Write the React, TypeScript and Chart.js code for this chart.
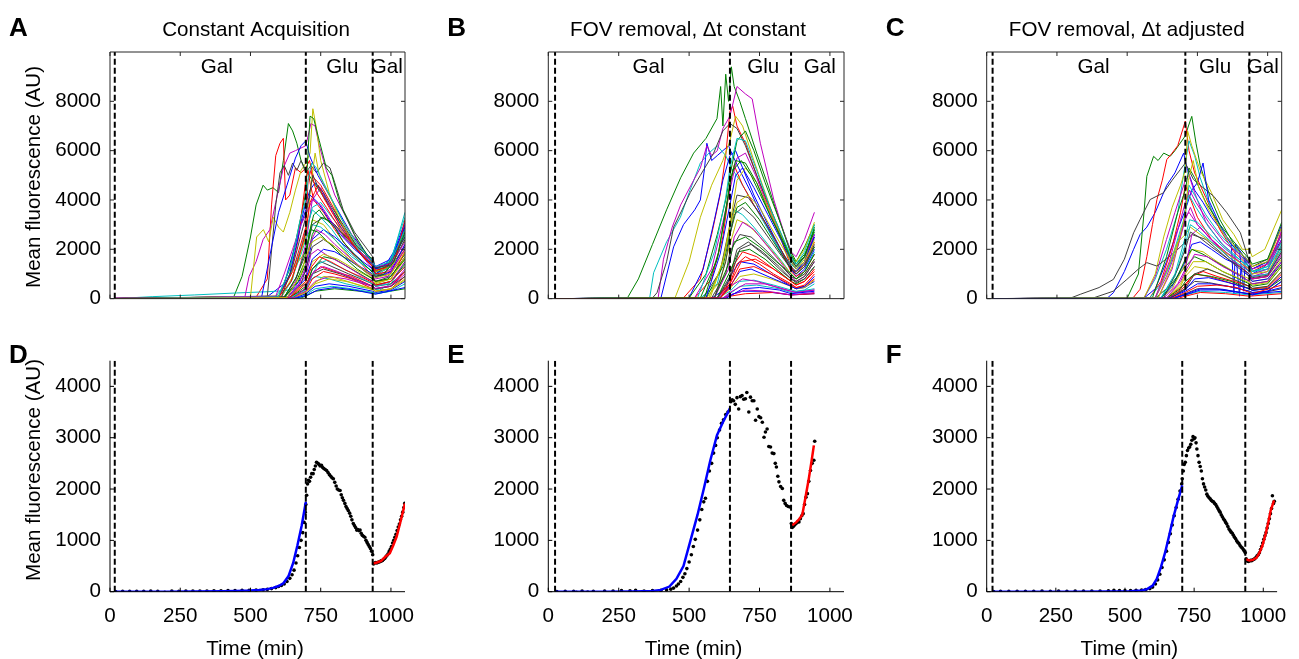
import React, { useEffect, useRef } from "react";
import { Chart, registerables } from "chart.js";

Chart.register(...registerables);

// ---------------- DATA ----------------
const timeTicks = [0, 250, 500, 750, 1000];
const topYTicks = [0, 2000, 4000, 6000, 8000];
const bottomYTicks = [0, 1000, 2000, 3000, 4000];
const TIME_MAX = 1050;
const TOP_Y_MAX = 10000;
const BOTTOM_Y_MAX = 4500;

const mediaNames = ["Gal", "Glu", "Gal"];
const switchTimesA = [17, 697, 935];
const switchTimesB = [24, 645, 862];
const switchTimesC = [21, 707, 935];
const mediaLabelTimesA = [380, 827, 985];
const mediaLabelTimesB = [356, 763, 964];
const mediaLabelTimesC = [380, 813, 983];

// single-cell traces: flat [time, value, time, value, ...]
const tracesA: number[][] = [
  [17,20, 450,40, 560,80, 620,600, 660,2200, 697,3900, 712,4400, 730,4700, 760,4200, 800,3400, 850,2500, 900,1800, 935,1500, 945,1250, 980,1350, 1010,1900, 1050,3100],
  [17,10, 440,60, 470,900, 500,2500, 520,3800, 545,4600, 560,4400, 580,4500, 600,4300, 617,5600, 635,7100, 650,6800, 665,6300, 680,5600, 697,5200, 720,4800, 750,4300, 790,3600, 830,2900, 880,2100, 935,1600, 945,1200, 990,1400, 1050,2600],
  [17,15, 520,60, 560,800, 575,3800, 590,5800, 605,6300, 617,6500, 625,4000, 640,4200, 660,5300, 680,5100, 697,5300, 710,5600, 725,4900, 750,4600, 790,3800, 830,2900, 880,2000, 935,1400, 945,1100, 990,1200, 1050,2900],
  [17,0, 150,80, 300,150, 450,230, 560,280, 620,320, 660,400, 697,600, 730,900, 780,800, 840,600, 900,450, 935,400, 960,350, 1000,600, 1050,1500],
  [17,10, 480,60, 495,900, 520,1500, 545,2400, 569,2800, 590,3900, 617,5300, 640,5900, 660,6000, 697,6200, 715,7100, 730,7000, 745,6200, 770,5200, 800,4200, 840,3300, 890,2100, 935,1400, 945,900, 990,1000, 1050,2200],
  [17,5, 500,60, 522,2500, 546,2800, 565,2300, 581,3300, 600,2900, 617,2700, 640,3500, 660,4400, 680,5200, 697,5500, 712,5900, 722,7700, 735,6900, 750,5600, 780,4300, 820,3100, 870,2200, 935,1300, 945,1000, 1000,1300, 1050,2400],
  [17,5, 560,100, 590,3800, 605,5100, 620,5400, 635,5000, 650,5500, 665,5200, 680,5600, 697,5100, 715,5400, 735,5100, 760,5500, 783,5300, 800,4700, 830,3600, 870,2700, 935,1700, 945,1200, 1000,1300, 1050,2100],
  [17,10, 540,80, 570,1800, 600,3500, 630,4600, 660,5700, 680,6200, 697,6400, 710,5800, 740,5000, 770,4400, 810,3600, 860,2600, 935,1500, 945,1300, 1000,1600, 1050,2900],
  [17,0, 600,100, 640,1200, 670,2800, 697,4300, 712,7400, 725,7300, 745,6400, 770,5300, 790,5000, 820,3800, 870,2600, 935,1400, 945,1000, 990,900, 1050,1800],
  [17,10, 600,80, 640,900, 670,2400, 697,4800, 705,5200, 712,4700, 725,4000, 760,3500, 800,2800, 850,2000, 935,900, 945,700, 1000,800, 1050,1900],
  [17,0, 610,60, 650,800, 697,2800, 720,3600, 750,3300, 790,2800, 840,2000, 900,1400, 935,1100, 945,1000, 1000,1500, 1050,3500],
  [17,0, 620,80, 660,700, 697,2200, 720,4000, 750,4500, 780,3800, 820,2900, 870,2100, 935,1200, 945,900, 1000,1200, 1050,2700],
  [17,0, 600,100, 650,1200, 697,1900, 720,3200, 760,3000, 800,2400, 860,1600, 935,800, 945,600, 1000,800, 1050,1600],
  [17,0, 640,60, 697,400, 720,1200, 750,1500, 790,1300, 850,1000, 935,600, 945,500, 1000,600, 1050,1100],
  [17,0, 620,60, 660,500, 697,1100, 720,2400, 760,2800, 800,2500, 850,2000, 900,1500, 935,1200, 945,1000, 1000,1400, 1050,3000],
  [17,0, 640,40, 697,500, 720,1200, 760,1700, 800,1600, 860,1200, 935,700, 945,550, 1000,700, 1050,1400],
  [17,0, 650,50, 697,300, 720,800, 760,1100, 800,1000, 860,800, 935,400, 945,300, 1000,400, 1050,900],
  [17,0, 600,80, 640,600, 680,1800, 697,2400, 720,3000, 750,2900, 800,2400, 860,1700, 935,1100, 945,950, 1000,1300, 1050,2600],
  [17,0, 630,60, 697,900, 715,1800, 740,2000, 780,1700, 830,1400, 900,900, 935,700, 945,500, 1000,700, 1050,1500],
  [17,0, 650,40, 697,200, 730,600, 780,800, 840,700, 935,400, 945,300, 1000,400, 1050,800],
  [17,0, 620,60, 660,800, 697,1800, 720,3000, 760,3300, 800,3000, 850,2300, 935,1300, 945,1100, 1000,1300, 1050,2400],
  [17,0, 660,30, 697,200, 730,500, 780,600, 850,500, 935,300, 945,250, 1000,350, 1050,700],
  [17,0, 620,50, 670,700, 697,1400, 720,2600, 750,3300, 790,3100, 840,2500, 900,1700, 935,1300, 945,1100, 1000,1400, 1050,2800],
  [17,0, 640,40, 697,600, 720,1000, 750,1300, 800,1100, 860,900, 935,500, 945,400, 1000,500, 1050,1100],
  [17,0, 590,80, 630,700, 670,1700, 697,2600, 720,3700, 750,3900, 790,3300, 840,2600, 900,1800, 935,1300, 945,1100, 1000,1600, 1050,3300],
  [17,0, 660,40, 697,300, 730,700, 780,900, 840,800, 935,500, 945,400, 1000,500, 1050,1000],
  [17,0, 610,70, 650,900, 697,2500, 715,4600, 730,5900, 745,5000, 780,4200, 820,3300, 870,2400, 935,1400, 945,1100, 1000,1300, 1050,2000],
  [17,0, 640,60, 680,600, 697,1200, 720,2100, 760,2400, 800,2100, 860,1500, 935,900, 945,700, 1000,900, 1050,1700],
  [17,0, 600,60, 640,1000, 680,3000, 697,3600, 712,4200, 740,3900, 780,3200, 820,2600, 870,2000, 935,1400, 945,1200, 1000,1500, 1050,2500],
  [17,0, 680,30, 697,100, 730,300, 800,400, 935,250, 945,200, 1050,400],
  [17,0, 600,60, 650,1100, 697,2900, 705,4800, 715,5200, 735,4300, 770,3700, 820,2800, 880,2000, 935,1300, 945,1000, 1000,1100, 1050,2000],
  [17,0, 670,40, 697,150, 730,400, 790,500, 860,400, 935,250, 945,200, 1000,300, 1050,600],
  [17,0, 590,100, 620,1000, 650,2000, 680,3000, 697,3400, 720,4000, 750,3800, 790,3100, 840,2400, 900,1800, 935,1500, 945,1300, 1000,1400, 1050,2300],
  [17,0, 630,50, 697,700, 720,1500, 760,1800, 810,1600, 870,1200, 935,800, 945,650, 1000,800, 1050,1700],
  [17,0, 650,40, 697,400, 720,1000, 760,1200, 820,1000, 935,500, 945,400, 1000,500, 1050,900],
  [17,0, 630,50, 697,800, 720,1600, 760,2000, 800,1900, 860,1500, 935,1000, 945,850, 1000,1100, 1050,2200],
  [17,0, 620,40, 660,600, 697,1600, 708,2600, 725,3400, 745,3600, 770,3200, 800,2900, 830,2300, 870,1800, 905,1400, 935,1050, 945,900, 975,1000, 1010,1500, 1050,2700],
  [17,0, 600,50, 645,700, 680,2000, 697,2700, 712,3900, 728,4300, 742,4600, 760,4100, 790,3500, 822,2900, 860,2300, 900,1700, 935,1300, 945,1150, 980,1250, 1020,1800, 1050,3200],
  [17,0, 640,30, 697,350, 718,900, 740,1400, 770,1550, 805,1350, 850,1100, 900,800, 935,600, 945,500, 990,600, 1050,1300],
  [17,0, 630,30, 670,500, 697,1300, 710,2200, 735,2800, 765,2600, 800,2200, 850,1700, 900,1200, 935,900, 945,800, 990,900, 1050,2000],
  [17,0, 650,30, 697,250, 725,600, 760,900, 800,850, 860,650, 935,350, 945,300, 1000,380, 1050,750],
  [17,0, 610,60, 650,1300, 680,2600, 697,3300, 708,4100, 722,5000, 738,4600, 760,4300, 790,3700, 830,3000, 875,2200, 935,1500, 945,1250, 990,1350, 1050,2500],
  [17,0, 660,20, 697,120, 740,350, 800,450, 870,350, 935,200, 945,180, 1050,450],
  [17,0, 620,50, 665,900, 697,2000, 715,2800, 740,2700, 775,2300, 820,1800, 880,1200, 935,800, 945,700, 990,800, 1050,1600],
  [17,0, 640,40, 697,700, 718,1300, 745,1700, 785,1500, 840,1150, 900,850, 935,650, 945,550, 1000,700, 1050,1300],
  [17,0, 600,70, 645,1400, 675,3100, 697,4000, 706,4900, 718,5500, 735,5300, 760,4700, 795,3900, 835,3000, 880,2200, 935,1500, 945,1300, 1000,1500, 1050,2800],
  [17,0, 655,30, 697,450, 725,1100, 760,1300, 810,1100, 870,800, 935,500, 945,420, 1000,520, 1050,1200],
  [17,0, 630,40, 680,1000, 697,1700, 720,2300, 750,2500, 790,2200, 840,1700, 900,1200, 935,950, 945,850, 1000,1000, 1050,1900],
];

const tracesB: number[][] = [
  [24,0, 400,30, 445,2100, 480,3000, 520,3600, 540,4000, 555,5300, 563,6300, 580,5600, 600,5800, 620,6000, 640,6200, 655,5800, 680,5200, 720,4300, 760,3300, 800,2400, 840,1600, 862,1200, 880,1100, 910,1500, 945,2600],
  [24,0, 280,10, 320,800, 370,2200, 420,3600, 470,4900, 516,5900, 560,6500, 599,7300, 612,8600, 620,7000, 630,9100, 640,8000, 650,9400, 660,8600, 680,8000, 700,7300, 740,5900, 780,4600, 820,3200, 862,1900, 880,1500, 910,2100, 945,3000],
  [24,0, 480,30, 540,800, 580,2600, 610,4200, 630,5800, 645,7600, 655,7800, 670,7000, 700,6300, 740,5000, 780,3800, 820,2600, 862,1300, 880,1000, 910,1400, 945,2300],
  [24,0, 360,30, 374,1050, 420,2300, 469,3300, 500,4300, 540,5500, 570,5900, 600,6200, 630,5800, 650,5300, 680,4800, 720,4000, 770,3000, 820,2000, 862,1400, 880,1200, 910,1700, 945,2800],
  [24,0, 390,20, 409,1600, 440,2900, 470,3800, 516,4800, 540,5300, 563,6200, 580,5800, 600,6000, 620,6900, 645,7400, 670,8600, 700,8300, 724,8100, 753,6300, 780,5000, 801,4000, 836,2700, 862,1900, 880,1700, 910,2400, 945,3500],
  [24,0, 450,30, 500,1500, 540,3300, 580,4600, 620,5600, 645,6400, 665,7400, 690,7000, 730,5600, 770,4300, 810,3000, 862,1700, 880,1500, 910,2000, 945,3100],
  [24,0, 370,30, 386,240, 420,1500, 445,2900, 475,3600, 504,4300, 540,5000, 587,5900, 620,6800, 645,7100, 670,6900, 700,6200, 740,5000, 780,3900, 820,2800, 862,1600, 880,1300, 910,1700, 945,2500],
  [24,0, 500,40, 550,1200, 590,3200, 620,4800, 645,5800, 665,6000, 690,5300, 730,4200, 780,3000, 830,1900, 862,1200, 880,900, 910,1200, 945,2000],
  [24,0, 500,30, 560,1000, 600,2600, 630,4000, 645,5000, 670,6400, 700,6800, 730,6000, 770,4700, 820,3200, 862,1800, 880,1400, 910,1800, 945,2700],
  [24,0, 520,30, 580,800, 620,2500, 645,4600, 660,5400, 690,4600, 730,3800, 780,2900, 830,1900, 862,1100, 880,900, 910,1100, 945,1800],
  [24,0, 540,20, 600,600, 645,2700, 660,3600, 690,3400, 730,2900, 780,2200, 830,1500, 862,1000, 880,800, 910,1100, 945,1900],
  [24,0, 520,40, 580,1200, 620,3100, 645,4400, 670,5700, 700,5900, 740,4900, 790,3400, 840,2200, 862,1600, 880,1300, 910,1700, 945,2600],
  [24,0, 560,20, 610,700, 645,2200, 670,3200, 710,3000, 760,2400, 820,1600, 862,1000, 880,800, 910,1000, 945,1600],
  [24,0, 550,30, 610,1100, 645,3000, 670,4200, 710,4100, 760,3300, 810,2300, 862,1300, 880,1100, 910,1400, 945,2100],
  [24,0, 580,20, 630,400, 645,900, 680,1500, 730,1400, 790,1000, 862,500, 880,400, 910,450, 945,700],
  [24,0, 560,30, 620,1300, 645,2600, 670,3700, 700,3900, 750,3200, 800,2300, 862,1200, 880,1000, 910,1300, 945,2100],
  [24,0, 600,20, 645,600, 670,1400, 700,1700, 750,1400, 800,1000, 862,600, 880,450, 910,500, 945,800],
  [24,0, 600,20, 645,300, 680,700, 730,750, 800,550, 862,350, 880,300, 910,350, 945,600],
  [24,0, 590,30, 640,1200, 660,2500, 690,3100, 730,2800, 780,2100, 830,1400, 862,900, 880,700, 910,900, 945,1500],
  [24,0, 610,20, 645,400, 680,900, 730,1000, 790,800, 862,500, 880,400, 910,450, 945,750],
  [24,0, 580,30, 630,1000, 645,1900, 680,2600, 720,2500, 770,2000, 830,1300, 862,900, 880,800, 910,1000, 945,1600],
  [24,0, 620,10, 645,150, 690,300, 760,300, 862,150, 945,200],
  [24,0, 590,40, 640,1400, 660,2300, 700,2500, 750,2100, 810,1500, 862,1000, 880,800, 910,1100, 945,1800],
  [24,0, 600,20, 645,700, 660,1400, 690,1900, 740,1700, 800,1200, 862,700, 880,550, 910,700, 945,1200],
  [24,0, 620,20, 645,200, 680,500, 740,550, 820,400, 862,250, 945,400],
  [24,0, 600,20, 645,500, 690,800, 740,700, 800,500, 862,300, 880,250, 945,350],
  [24,0, 570,40, 620,1500, 645,3000, 670,4800, 700,5300, 740,4700, 780,3700, 830,2500, 862,1500, 880,1200, 910,1600, 945,2400],
  [24,0, 600,30, 645,900, 670,2000, 710,2300, 760,1900, 820,1300, 862,800, 880,700, 910,900, 945,1500],
  [24,0, 610,20, 645,500, 680,1100, 720,1200, 780,900, 862,500, 880,400, 910,500, 945,900],
  [24,0, 620,10, 645,100, 700,200, 800,250, 862,150, 945,200],
  [24,0, 540,30, 600,1600, 630,3500, 645,4700, 665,5600, 700,5500, 740,4700, 790,3300, 840,2200, 862,1700, 880,1400, 910,1700, 945,2900],
  [24,0, 620,10, 645,150, 700,350, 780,300, 862,150, 945,250],
  [24,0, 590,30, 630,1500, 645,2600, 660,3400, 690,3700, 730,3300, 780,2500, 830,1700, 862,1200, 880,1000, 910,1300, 945,2200],
  [24,0, 560,40, 610,1800, 645,3800, 665,5000, 690,5300, 730,4500, 780,3400, 830,2300, 862,1500, 880,1200, 910,1500, 945,2500],
  [24,0, 600,30, 645,1100, 675,1900, 715,2000, 770,1600, 830,1000, 862,700, 880,600, 910,800, 945,1300],
  [24,0, 610,20, 645,450, 680,1200, 730,1300, 790,1000, 862,550, 880,450, 910,550, 945,1000],
  [24,0, 530,30, 590,1900, 630,4100, 645,5300, 670,6500, 700,6400, 740,5200, 790,3600, 840,2300, 862,1700, 880,1400, 910,1900, 945,3000],
  [24,0, 620,20, 645,250, 700,600, 770,600, 862,300, 880,250, 945,350],
  [24,0, 575,30, 625,1700, 645,2900, 670,3900, 710,4200, 750,3700, 800,2700, 862,1500, 880,1200, 910,1500, 945,2300],
  [24,0, 600,20, 645,800, 680,2000, 720,2200, 775,1700, 830,1100, 862,800, 880,650, 910,800, 945,1300],
  [24,0, 630,10, 645,100, 690,400, 750,450, 820,350, 862,200, 945,300],
  [24,0, 555,40, 605,1900, 640,4300, 655,5200, 685,5600, 720,5000, 770,3800, 820,2600, 862,1600, 880,1300, 910,1700, 945,2800],
  [24,0, 610,20, 645,600, 685,1500, 735,1600, 800,1200, 862,700, 880,550, 910,700, 945,1100],
];

const tracesC: number[][] = [
  [21,0, 430,30, 451,240, 490,1100, 523,2000, 546,2600, 570,2900, 600,3500, 641,4600, 670,5100, 701,5900, 715,5200, 740,4400, 770,3900, 800,3300, 840,2700, 870,2300, 880,200, 885,2200, 910,1800, 935,1200, 945,1000, 990,1300, 1050,2400],
  [21,0, 500,20, 540,1000, 560,3500, 570,4960, 594,5770, 610,5600, 630,5900, 653,5770, 670,6000, 689,6310, 707,6600, 718,7000, 730,7390, 745,6300, 760,5400, 796,4100, 830,3200, 880,2200, 935,1400, 945,1200, 1000,1500, 1050,2300],
  [21,0, 520,20, 546,380, 570,1700, 590,3000, 606,4020, 625,4800, 641,5640, 660,5900, 680,6200, 707,7200, 720,6000, 740,5100, 780,4100, 830,2800, 880,1900, 935,1300, 945,1100, 1000,1400, 1050,2700],
  [21,0, 560,30, 600,800, 640,2000, 680,3500, 707,5500, 720,6400, 740,5800, 760,4900, 800,3600, 850,2500, 900,1800, 935,1300, 945,1100, 1000,1300, 1050,2600],
  [21,0, 560,20, 600,900, 640,2400, 670,3500, 707,4800, 720,5000, 740,4300, 780,3100, 830,2300, 880,1700, 935,1100, 945,900, 1000,1100, 1050,2800],
  [21,0, 560,30, 600,1000, 630,2500, 660,3700, 690,4600, 707,5200, 715,6800, 730,6200, 760,5200, 800,4300, 840,3200, 880,2600, 910,2000, 935,2000, 945,1700, 990,2000, 1050,3600],
  [21,0, 300,30, 333,175, 400,450, 451,780, 490,1600, 523,2670, 546,3210, 582,4020, 629,4290, 660,4800, 689,5230, 707,5500, 736,4830, 770,4500, 808,4150, 855,3480, 903,2670, 932,1590, 945,1300, 1000,1600, 1050,2900],
  [21,0, 380,30, 450,300, 499,780, 540,1200, 570,1460, 606,1320, 653,1730, 690,2100, 707,2300, 730,2600, 780,2400, 830,1900, 890,1300, 935,900, 945,800, 1000,900, 1050,1700],
  [21,0, 560,20, 600,400, 640,1500, 680,2800, 707,3600, 730,4400, 750,4700, 770,5500, 790,4000, 830,3000, 870,2200, 900,1900, 915,300, 920,1700, 935,1400, 945,1200, 1000,1500, 1050,3000],
  [21,0, 580,30, 620,700, 660,2100, 690,3500, 707,4600, 720,4200, 750,3300, 800,2400, 860,1700, 935,1000, 945,800, 1000,900, 1050,2200],
  [21,0, 600,20, 650,500, 707,1300, 740,1700, 780,1500, 840,1100, 935,600, 945,500, 1000,600, 1050,1300],
  [21,0, 580,30, 620,600, 660,1600, 700,3000, 707,3700, 720,4200, 745,3700, 790,2900, 840,2200, 890,1700, 935,1200, 945,1000, 1000,1200, 1050,2100],
  [21,0, 600,30, 640,900, 680,2100, 707,3200, 725,3700, 750,3000, 790,2500, 850,1900, 900,1500, 935,1100, 945,900, 1000,1000, 1050,1900],
  [21,0, 620,20, 660,400, 707,1400, 730,2000, 770,1900, 820,1500, 880,1100, 935,800, 945,700, 1000,800, 1050,1600],
  [21,0, 640,20, 707,400, 740,700, 790,650, 860,500, 935,300, 945,250, 1000,300, 1050,700],
  [21,0, 620,20, 660,500, 707,1500, 730,2200, 760,2300, 800,2000, 850,1600, 890,1400, 900,100, 905,1300, 935,900, 945,700, 1000,800, 1050,1500],
  [21,0, 640,20, 707,600, 740,1000, 790,900, 850,700, 935,400, 945,350, 1000,400, 1050,900],
  [21,0, 600,30, 650,1300, 690,2800, 707,3400, 720,4600, 740,4200, 780,3400, 830,2600, 880,2000, 935,1400, 945,1100, 1000,1300, 1050,2300],
  [21,0, 620,20, 670,700, 707,1600, 730,2000, 770,1800, 830,1400, 935,700, 945,600, 1000,700, 1050,1400],
  [21,0, 630,20, 680,600, 707,1200, 730,2600, 760,2900, 790,2500, 840,1900, 900,1300, 935,1000, 945,800, 1000,900, 1050,1800],
  [21,0, 640,20, 690,500, 707,900, 740,1300, 790,1200, 850,900, 935,500, 945,400, 1000,500, 1050,1100],
  [21,0, 660,20, 707,200, 750,400, 820,400, 935,200, 945,150, 1050,400],
  [21,0, 650,20, 707,300, 750,600, 800,600, 860,500, 935,300, 945,250, 1000,300, 1050,700],
  [21,0, 650,20, 707,500, 730,900, 770,1100, 820,900, 880,700, 935,500, 945,400, 1000,450, 1050,1000],
  [21,0, 660,20, 707,150, 760,300, 850,250, 935,150, 1050,250],
  [21,0, 610,30, 660,1200, 690,2600, 707,3300, 720,3500, 750,3000, 800,2400, 860,1800, 935,1200, 945,1000, 1000,1200, 1050,2400],
  [21,0, 600,30, 640,1100, 680,2300, 707,2600, 725,2900, 760,2600, 810,2200, 870,1700, 935,1200, 945,1000, 1000,1100, 1050,2000],
  [21,0, 640,20, 690,400, 707,700, 740,1000, 800,900, 870,700, 935,400, 945,350, 1000,400, 1050,800],
  [21,0, 680,10, 707,100, 760,250, 850,200, 935,100, 1050,200],
  [21,0, 660,10, 707,150, 760,350, 830,350, 935,200, 945,150, 1050,450],
  [21,0, 620,20, 670,900, 707,2200, 725,3000, 750,2800, 800,2300, 860,1700, 935,1100, 945,900, 1000,1000, 1050,2000],
  [21,0, 600,40, 650,1500, 690,3200, 707,3900, 722,4400, 745,3900, 790,3100, 845,2300, 900,1800, 935,1400, 945,1200, 1000,1400, 1050,2600],
  [21,0, 640,20, 690,600, 707,1000, 735,1500, 780,1500, 840,1100, 935,650, 945,550, 1000,650, 1050,1300],
  [21,0, 630,30, 680,1200, 707,2000, 725,2700, 755,2500, 800,2100, 860,1600, 935,1000, 945,850, 1000,950, 1050,1900],
  [21,0, 650,20, 707,350, 740,800, 790,850, 860,650, 935,400, 945,330, 1000,400, 1050,900],
  [21,0, 590,40, 640,1700, 680,3500, 707,4400, 720,5300, 740,4900, 780,3900, 830,3000, 880,2300, 935,1600, 945,1400, 1000,1600, 1050,3100],
  [21,0, 660,15, 707,250, 750,500, 820,550, 890,450, 935,250, 945,200, 1050,550],
  [21,0, 620,30, 670,1000, 707,2500, 722,3200, 750,3100, 795,2600, 850,2000, 910,1500, 935,1300, 945,1100, 1000,1200, 1050,2200],
  [21,0, 640,20, 690,700, 707,1100, 740,1800, 785,1700, 840,1300, 900,950, 935,700, 945,600, 1000,700, 1050,1500],
  [21,0, 610,30, 660,1300, 700,3100, 707,3500, 718,4800, 735,5600, 755,4500, 790,3600, 840,2700, 890,2000, 935,1500, 945,1300, 1000,1500, 1050,2900],
  [21,0, 655,20, 707,400, 740,1000, 785,1200, 845,950, 935,500, 945,420, 1000,500, 1050,1100],
  [21,0, 670,10, 707,180, 760,400, 840,380, 935,180, 1050,300],
];

// population means (black dots) and fits (blue: first Gal phase, red: second Gal phase)
const meanDotsD = [
  20,5, 45,8, 70,6, 95,10, 120,8, 145,12, 170,9, 195,-10, 220,12, 245,10, 270,14, 295,11, 320,15, 345,13, 370,16, 395,18, 420,20, 445,22, 470,25, 495,28, 520,30, 545,38, 560,45, 575,60, 590,80, 600,100, 610,120, 620,150, 630,200, 640,260, 648,330, 655,420, 662,560, 668,700, 674,860, 680,1000, 686,1150, 691,1350, 695,1550, 697,1700,
  700,1880, 703,2100, 706,2170, 710,2150, 714,2230, 718,2300, 723,2300, 727,2380, 731,2450, 735,2520, 740,2500, 744,2480, 748,2450, 753,2460, 757,2420, 761,2400, 766,2380, 771,2360, 776,2320, 781,2280, 786,2250, 790,2220, 795,2200, 800,2130, 805,2060, 809,2000, 814,1980, 819,1970, 823,1890, 827,1830, 831,1780, 836,1720, 840,1660, 844,1620, 848,1580, 853,1530, 857,1470, 861,1400, 866,1330, 870,1290, 874,1250, 878,1200, 882,1210, 886,1190, 890,1200, 894,1140, 898,1100, 902,1080, 907,1060, 911,1000, 915,960, 919,920, 923,880, 927,840, 931,790, 935,720,
  938,540, 942,560, 946,570, 950,560, 954,575, 958,580, 962,590, 966,600, 970,610, 974,630, 978,650, 982,680, 986,710, 990,740, 994,790, 998,830, 1002,880, 1006,950, 1010,1000, 1014,1060, 1018,1120, 1022,1190, 1026,1260, 1030,1320, 1034,1400, 1038,1470, 1042,1550, 1046,1640, 1049,1720,
];
const fitGalD = [17,0, 100,0, 200,0, 300,5, 400,10, 450,15, 500,25, 530,35, 560,50, 580,75, 600,110, 617,165, 635,300, 652,560, 667,900, 682,1280, 697,1750];
const fitRegrowD = [937,550, 950,570, 965,600, 980,680, 996,750, 1008,900, 1020,1070, 1030,1280, 1040,1500, 1050,1720];

const meanDotsE = [
  30,5, 60,8, 90,10, 100,-10, 120,12, 140,-8, 160,10, 200,15, 230,12, 260,20, 290,18, 310,25, 340,15, 370,20, 400,25, 420,35, 435,50, 445,70, 455,110, 462,150, 470,200, 478,280, 485,350, 492,450, 500,580, 508,720, 515,880, 522,1020, 530,1200, 538,1400, 545,1600, 552,1750, 558,1820, 565,2150, 572,2350, 580,2500, 587,2700, 594,2850, 600,3000, 608,3150, 615,3280, 622,3350, 630,3450, 638,3500,
  648,3700, 653,3740, 658,3720, 664,3650, 670,3780, 676,3560, 682,3800, 688,3820, 694,3750, 700,3760, 705,3880, 712,3500, 718,3790, 724,3720, 730,3720, 736,3340, 742,3560, 748,3410, 754,3390, 760,3300, 766,3010, 771,3110, 777,3170, 783,2830, 789,2820, 795,2700, 801,2690, 806,2500, 810,2430, 815,2250, 819,2140, 825,2050, 831,2010, 836,1780, 841,1720, 846,1680, 852,1660, 858,1650,
  863,1330, 866,1250, 870,1270, 875,1300, 880,1330, 886,1360, 890,1360, 895,1420, 900,1480, 905,1520, 910,1700, 915,1840, 920,1910, 925,2150, 931,2360, 937,2500, 943,2560, 946,2930,
];
const fitGalE = [24,0, 200,0, 300,5, 370,15, 400,35, 430,100, 455,250, 480,500, 505,1000, 530,1500, 552,2000, 575,2550, 599,3050, 620,3300, 645,3570];
const fitRegrowE = [866,1295, 880,1350, 892,1420, 902,1500, 912,1800, 925,2200, 935,2550, 943,2850];

const meanDotsF = [
  25,5, 50,8, 80,6, 110,10, 140,8, 170,9, 200,12, 230,10, 260,12, 290,10, 320,14, 350,12, 380,15, 410,14, 440,18, 460,25, 480,22, 500,20, 520,22, 540,25, 560,30, 575,40, 590,60, 600,90, 610,150, 618,230, 626,340, 634,470, 642,620, 650,790, 657,960, 664,1130, 671,1300, 678,1480, 685,1640, 692,1800, 699,1960, 705,2100,
  707,2200, 711,2350, 714,2480, 718,2520, 722,2650, 726,2750, 730,2800, 734,2820, 738,2870, 742,2950, 746,3020, 750,2980, 753,3000, 757,2900, 760,2780, 764,2650, 768,2520, 772,2440, 776,2350, 780,2200, 784,2100, 788,2040, 792,1980, 796,1900, 800,1860, 804,1830, 808,1810, 812,1780, 816,1760, 820,1750, 824,1720, 828,1700, 832,1660, 836,1620, 840,1580, 844,1550, 848,1500, 852,1460, 856,1420, 860,1390, 864,1350, 868,1320, 872,1270, 876,1220, 880,1190, 884,1160, 888,1140, 892,1100, 896,1060, 900,1030, 904,990, 908,960, 912,940, 916,900, 920,870, 924,850, 928,820, 932,790, 935,760,
  938,640, 942,600, 946,590, 950,600, 954,610, 958,605, 962,620, 966,630, 970,645, 974,670, 978,700, 982,720, 986,760, 990,820, 994,880, 998,950, 1002,1020, 1006,1090, 1010,1150, 1014,1240, 1018,1330, 1022,1420, 1026,1520, 1030,1620, 1033,1870, 1037,1720, 1040,1760,
];
const fitGalF = [21,0, 300,0, 450,5, 520,10, 560,25, 580,50, 600,120, 615,250, 630,480, 645,760, 660,1100, 675,1450, 690,1750, 707,2070];
const fitRegrowF = [938,630, 950,610, 962,620, 975,660, 985,745, 997,900, 1009,1134, 1018,1350, 1027,1586, 1039,1780];

// ---------------- STYLE / LAYOUT ----------------
const FONT = '"Liberation Sans", Arial, Helvetica, sans-serif';
const TEXT_SIZE = 20.6;
const MATLAB: Record<string, string> = {
  b: "#0000ff", g: "#008000", r: "#ff0000", c: "#00bfbf", m: "#bf00bf", y: "#bfbf00", k: "#404040",
};
const colorCycleA = "bgrcmykbgrcmykbgrcmykbgrcmykbgrcmykbgrcmykbgrcmy";
const colorCycleB = "bgrcmykbgrcmykbgrcmykbgrcmykbrgmkbgrcmykbgr";
const colorCycleC = "bgrcmykkbrgcmykbrcgmykbrcmygrbcmykbgrcmykb";

type Area = { l: number; r: number; t: number; b: number };
type Panel = {
  id: string; kind: "top" | "bottom"; left: number; top: number; w: number; h: number; area: Area;
  title?: string; titleX?: number; yLabel?: boolean; yLabelY?: number;
};

const PANELS: Panel[] = [
  { id: "A", kind: "top", left: 0, top: 0, w: 440, h: 320, area: { l: 110, r: 405, t: 52, b: 299 }, title: "Constant Acquisition", titleX: 256, yLabel: true, yLabelY: 177 },
  { id: "B", kind: "top", left: 440, top: 0, w: 440, h: 320, area: { l: 108.3, r: 404, t: 52, b: 299 }, title: "FOV removal, \u0394t constant", titleX: 248 },
  { id: "C", kind: "top", left: 880, top: 0, w: 419, h: 320, area: { l: 106.7, r: 401.7, t: 52, b: 299 }, title: "FOV removal, \u0394t adjusted", titleX: 246.7 },
  { id: "D", kind: "bottom", left: 0, top: 320, w: 440, h: 339, area: { l: 110, r: 405, t: 40.7, b: 271.7 }, yLabel: true, yLabelY: 150 },
  { id: "E", kind: "bottom", left: 440, top: 320, w: 440, h: 339, area: { l: 108.3, r: 404, t: 40.7, b: 271.7 } },
  { id: "F", kind: "bottom", left: 880, top: 320, w: 419, h: 339, area: { l: 106.7, r: 401.7, t: 40.7, b: 271.7 } },
];

function toPoints(flat: number[]) {
  const pts: { x: number; y: number }[] = [];
  for (let i = 0; i + 1 < flat.length; i += 2) pts.push({ x: flat[i], y: flat[i + 1] });
  return pts;
}

function switchDatasets(times: number[], yMax: number) {
  return times.map((t) => ({
    data: [{ x: t, y: 0 }, { x: t, y: yMax }],
    borderColor: "#000",
    borderWidth: 2,
    borderDash: [6, 3],
    pointRadius: 0,
    order: 0,
  }));
}

function topDatasets(traces: number[][], colors: string, switches: number[]) {
  const ds: any[] = traces.map((tr, i) => ({
    data: toPoints(tr),
    borderColor: MATLAB[colors[i % colors.length]] || MATLAB.b,
    borderWidth: 1,
    pointRadius: 0,
    order: 2 + (traces.length - i),
  }));
  return ds.concat(switchDatasets(switches, TOP_Y_MAX));
}

function bottomDatasets(dots: number[], fitGal: number[], fitRegrow: number[], switches: number[]) {
  return [
    { data: toPoints(fitGal), borderColor: "#0000ff", borderWidth: 2.5, pointRadius: 0, order: 1 },
    { data: toPoints(fitRegrow), borderColor: "#ff0000", borderWidth: 2.5, pointRadius: 0, order: 1 },
    { data: toPoints(dots), showLine: false, pointRadius: 1.8, pointBorderWidth: 0, pointBackgroundColor: "#000", borderColor: "#000", order: 3 },
    ...switchDatasets(switches, BOTTOM_Y_MAX),
  ];
}

function decorPlugin(p: Panel, labelTimes: number[] | null) {
  return {
    id: "decor" + p.id,
    afterDraw(chart: any) {
      const { ctx, chartArea: a, scales } = chart;
      const x = scales.x, y = scales.y;
      const yTicks = p.kind === "top" ? topYTicks : bottomYTicks;
      ctx.save();
      ctx.strokeStyle = p.kind === "top" ? "#262626" : "#000";
      ctx.lineWidth = 1;
      const TL = 4;
      ctx.beginPath();
      if (p.kind === "top") {
        ctx.rect(a.left, a.top, a.right - a.left, a.bottom - a.top);
        for (const t of timeTicks) {
          const px = x.getPixelForValue(t);
          ctx.moveTo(px, a.bottom); ctx.lineTo(px, a.bottom - TL);
          ctx.moveTo(px, a.top); ctx.lineTo(px, a.top + TL);
        }
        for (const v of yTicks) {
          const py = y.getPixelForValue(v);
          ctx.moveTo(a.left, py); ctx.lineTo(a.left + TL, py);
          ctx.moveTo(a.right, py); ctx.lineTo(a.right - TL, py);
        }
      } else {
        ctx.moveTo(a.left, a.top); ctx.lineTo(a.left, a.bottom); ctx.lineTo(a.right, a.bottom);
        for (const t of timeTicks) {
          const px = x.getPixelForValue(t);
          ctx.moveTo(px, a.bottom); ctx.lineTo(px, a.bottom - TL);
        }
        for (const v of yTicks) {
          const py = y.getPixelForValue(v);
          ctx.moveTo(a.left, py); ctx.lineTo(a.left + TL, py);
        }
      }
      ctx.stroke();

      ctx.fillStyle = "#000";
      ctx.font = `bold 26px ${FONT}`;
      ctx.textAlign = "left";
      ctx.textBaseline = "alphabetic";
      ctx.fillText(p.id, a.left - 101, p.kind === "top" ? 36 : 43);

      ctx.font = `${TEXT_SIZE}px ${FONT}`;
      if (p.title) {
        ctx.textAlign = "center";
        ctx.fillText(p.title, p.titleX ?? (a.left + a.right) / 2, 36);
      }
      if (labelTimes) {
        ctx.textAlign = "center";
        labelTimes.forEach((t, i) => ctx.fillText(mediaNames[i], x.getPixelForValue(t), 72.5));
      }
      if (p.kind === "bottom") {
        ctx.textAlign = "center";
        ctx.fillText("Time (min)", (a.left + a.right) / 2 - 2.5, 335);
      }
      if (p.yLabel) {
        ctx.save();
        ctx.translate(39.5, p.yLabelY ?? (a.top + a.bottom) / 2);
        ctx.rotate(-Math.PI / 2);
        ctx.textAlign = "center";
        ctx.textBaseline = "alphabetic";
        ctx.fillText("Mean fluorescence (AU)", 0, 0);
        ctx.restore();
      }
      ctx.restore();
    },
  };
}

function buildChart(canvas: HTMLCanvasElement, p: Panel, datasets: any[], labelTimes: number[] | null) {
  const yMax = p.kind === "top" ? TOP_Y_MAX : BOTTOM_Y_MAX;
  const yTicks = p.kind === "top" ? topYTicks : bottomYTicks;
  return new Chart(canvas, {
    type: "line",
    data: { datasets },
    options: {
      animation: false,
      responsive: false,
      maintainAspectRatio: false,
      events: [],
      layout: { padding: { left: 0, top: p.area.t, right: p.w - p.area.r, bottom: 0 } },
      plugins: { legend: { display: false }, tooltip: { enabled: false }, title: { display: false } },
      elements: { line: { tension: 0 } },
      scales: {
        x: {
          type: "linear",
          min: 0,
          max: TIME_MAX,
          grid: { display: false, drawTicks: false },
          border: { display: false },
          afterBuildTicks: (s: any) => { s.ticks = timeTicks.map((v) => ({ value: v })); },
          afterFit: (s: any) => { s.height = p.h - p.area.b; },
          ticks: {
            display: p.kind === "bottom",
            padding: 12,
            color: "#000",
            maxRotation: 0,
            autoSkip: false,
            font: { family: FONT, size: TEXT_SIZE },
            callback: (v: any) => String(v),
          },
        },
        y: {
          type: "linear",
          min: 0,
          max: yMax,
          grid: { display: false, drawTicks: false },
          border: { display: false },
          afterBuildTicks: (s: any) => { s.ticks = yTicks.map((v) => ({ value: v })); },
          afterFit: (s: any) => { s.width = p.area.l; },
          ticks: {
            padding: 9,
            color: "#000",
            autoSkip: false,
            font: { family: FONT, size: TEXT_SIZE },
            callback: (v: any) => String(v),
          },
        },
      },
    } as any,
    plugins: [decorPlugin(p, labelTimes)],
  });
}

export default function App() {
  const refs = useRef<(HTMLCanvasElement | null)[]>([]);

  useEffect(() => {
    const dataFor: Record<string, [any[], number[] | null]> = {
      A: [topDatasets(tracesA, colorCycleA, switchTimesA), mediaLabelTimesA],
      B: [topDatasets(tracesB, colorCycleB, switchTimesB), mediaLabelTimesB],
      C: [topDatasets(tracesC, colorCycleC, switchTimesC), mediaLabelTimesC],
      D: [bottomDatasets(meanDotsD, fitGalD, fitRegrowD, switchTimesA), null],
      E: [bottomDatasets(meanDotsE, fitGalE, fitRegrowE, switchTimesB), null],
      F: [bottomDatasets(meanDotsF, fitGalF, fitRegrowF, switchTimesC), null],
    };
    const charts = PANELS.map((p, i) => {
      const c = refs.current[i]!;
      const [ds, lt] = dataFor[p.id];
      return buildChart(c, p, ds, lt);
    });
    return () => charts.forEach((c) => c.destroy());
  }, []);

  return (
    <div style={{ position: "fixed", left: 0, top: 0, width: 1299, height: 659, background: "#fff" }}>
      {PANELS.map((p, i) => (
        <canvas
          key={p.id}
          ref={(el) => { refs.current[i] = el; }}
          width={p.w}
          height={p.h}
          style={{ position: "absolute", left: p.left, top: p.top, width: p.w, height: p.h, display: "block" }}
        />
      ))}
    </div>
  );
}
